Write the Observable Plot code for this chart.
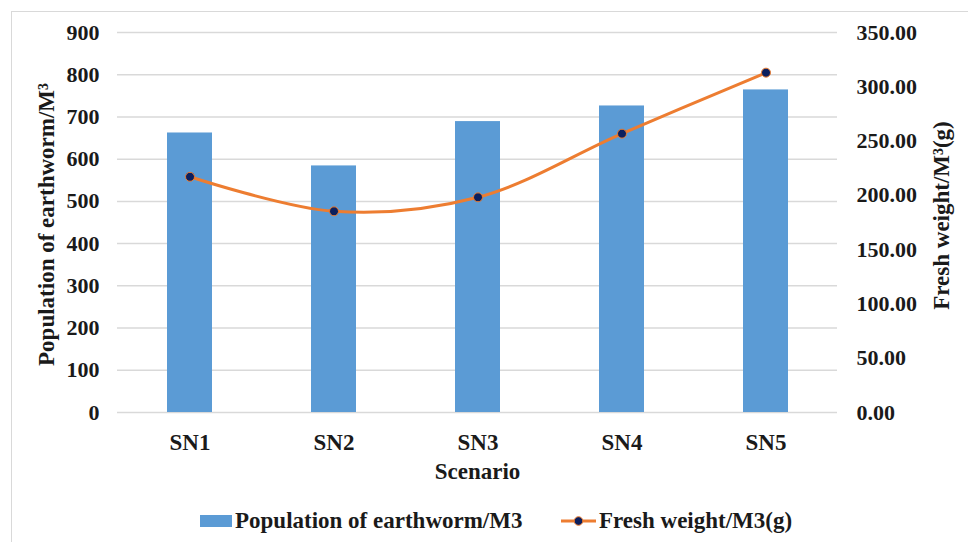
<!DOCTYPE html>
<html>
<head>
<meta charset="utf-8">
<script src="https://cdn.jsdelivr.net/npm/d3@7"></script>
<script src="https://cdn.jsdelivr.net/npm/@observablehq/plot@0.6"></script>
<style>
  body { margin: 0; background: #fff; }
  #chart {
    position: relative; width: 968px; height: 542px; overflow: hidden;
    font-family: "Liberation Serif", "Times New Roman", serif; font-weight: bold; color: #1a1a1a;
  }
  #frame {
    position: absolute; left: 11px; top: 11px; width: 1000px; height: 600px;
    border: 1.5px solid #d9d9d9; box-sizing: border-box;
  }
  #plot { position: absolute; left: 0; top: 0; }
  .legend-item { position: absolute; top: 508px; display: flex; align-items: center; font-size: 23px; white-space: nowrap; }
  .legend-item svg { display: block; margin-right: 3px; }
</style>
</head>
<body>
<div id="chart">
  <div id="frame"></div>
  <div id="plot"></div>
  <div class="legend-item" style="left:200px">
    <svg width="32" height="12"><rect x="0" y="0" width="32" height="12" fill="#5b9bd5"></rect></svg>
    <span>Population of earthworm/M3</span>
  </div>
  <div class="legend-item" style="left:561px">
    <svg width="35" height="12"><line x1="0" x2="35" y1="6" y2="6" stroke="#ed7d31" stroke-width="3"></line><circle cx="17.5" cy="6" r="4.3" fill="#0b1f5e" stroke="#ed7d31" stroke-width="1"></circle></svg>
    <span>Fresh weight/M3(g)</span>
  </div>
</div>
<script>
// Earthworm survey by scenario
const scenarios = ["SN1", "SN2", "SN3", "SN4", "SN5"];
const population = [662, 584, 689, 726, 764];          // individuals per m³ (left axis)
const freshWeight = [217.1, 185.3, 198.2, 256.8, 313.0]; // grams per m³ (right axis)
const leftTicks = [0, 100, 200, 300, 400, 500, 600, 700, 800, 900];
const rightTicks = [0, 50, 100, 150, 200, 250, 300, 350];

const leftMax = 900, rightMax = 350;
const k = leftMax / rightMax; // maps the right-axis unit onto the shared y scale

const rows = scenarios.map((s, i) => ({ scenario: s, population: population[i], weight: freshWeight[i] }));

const font = '"Liberation Serif", "Times New Roman", serif';

const chart = Plot.plot({
  width: 968,
  height: 500,
  marginTop: 32,
  marginBottom: 88,
  marginLeft: 117,
  marginRight: 131,
  style: { fontFamily: font, fontWeight: "bold", fontSize: "22px", color: "#1a1a1a", background: "transparent", overflow: "visible" },
  x: { domain: scenarios, paddingInner: 0.6875, paddingOuter: 0.34375, axis: null },
  y: { domain: [0, leftMax], axis: null },
  marks: [
    Plot.gridY(leftTicks, { stroke: "#d9d9d9", strokeOpacity: 1, strokeWidth: 1.5 }),
    Plot.barY(rows, { x: "scenario", y: "population", fill: "#5b9bd5" }),
    Plot.line(rows, { x: "scenario", y: d => d.weight * k, stroke: "#ed7d31", strokeWidth: 3, curve: "catmull-rom" }),
    Plot.dot(rows, { x: "scenario", y: d => d.weight * k, r: 4.5, fill: "#0b1f5e", stroke: "#ed7d31", strokeWidth: 1 }),
    Plot.axisY({ ticks: leftTicks, tickSize: 0, tickPadding: 18, label: null }),
    Plot.axisY({
      anchor: "right", ticks: rightTicks.map(t => t * k), tickFormat: d => (d / k).toFixed(2),
      tickSize: 0, tickPadding: 19, textAnchor: "start", label: null
    }),
    Plot.axisX({ tickSize: 0, tickPadding: 21, label: null, fontSize: 23 }),
    Plot.text(["Population of earthworm/M³"], { frameAnchor: "left", textAnchor: "middle", rotate: -90, dx: -71, dy: 2, fontSize: 23 }),
    Plot.text(["Fresh weight/M³(g)"], { frameAnchor: "right", textAnchor: "middle", rotate: -90, dx: 104, dy: -7, fontSize: 23 }),
    Plot.text(["Scenario"], { frameAnchor: "bottom", lineAnchor: "top", dy: 50, fontSize: 23 })
  ]
});

document.getElementById("plot").append(chart);
</script>
</body>
</html>
